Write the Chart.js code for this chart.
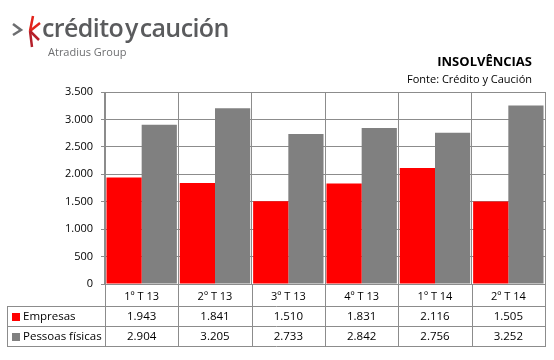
<!DOCTYPE html>
<html>
<head>
<meta charset="utf-8">
<script src="https://cdn.jsdelivr.net/npm/chart.js@4.4.0/dist/chart.umd.min.js"></script>
<style>
  html, body { margin: 0; padding: 0; background: #fff; }
  #wrap { position: relative; width: 554px; height: 360px; overflow: hidden; }
  #chart { position: absolute; left: 0; top: 0; }
  .logo { position: absolute; left: 42px; top: 10px; font-family: "Open Sans", sans-serif; font-weight: 600; font-size: 25px; color: #5a5b5d; letter-spacing: -0.6px; word-spacing: -4px; }
  .group { position: absolute; left: 48px; top: 44px; font-family: "Open Sans", sans-serif; font-size: 11px; color: #6d6e70; }
  .title { position: absolute; right: 22px; top: 52px; font-family: "Open Sans", sans-serif; font-weight: 700; font-size: 13px; color: #000; }
  .source { position: absolute; right: 22px; top: 71px; font-family: "Open Sans", sans-serif; font-size: 11px; color: #000; }
</style>
</head>
<body>
<div id="wrap">
  <canvas id="chart" width="554" height="360"></canvas>
  <svg style="position:absolute;left:10px;top:14px" width="40" height="40">
    <polyline points="3,10 11,16 3,21" fill="none" stroke="#6d6e70" stroke-width="2.5"/>
    <line x1="20" y1="17" x2="23" y2="2" stroke="#e2231a" stroke-width="2.5"/>
    <line x1="20" y1="17" x2="30" y2="9" stroke="#e2231a" stroke-width="2.5"/>
    <line x1="20" y1="17" x2="29" y2="26" stroke="#b51f2a" stroke-width="2.5"/>
    <line x1="20" y1="17" x2="22" y2="33" stroke="#b51f2a" stroke-width="2.5"/>
  </svg>
  <div class="logo">crédito y caución</div>
  <div class="group">Atradius Group</div>
  <div class="title">INSOLVÊNCIAS</div>
  <div class="source">Fonte: Crédito y Caución</div>
</div>
<script>
// data
var quarters = ['1º T 13', '2º T 13', '3º T 13', '4º T 13', '1º T 14', '2º T 14'];
var empresas = [1943, 1841, 1510, 1831, 2116, 1505];
var pessoas = [2904, 3205, 2733, 2842, 2756, 3252];
var seriesNames = ['Empresas', 'Pessoas físicas'];
var seriesColors = ['#ff0000', '#808080'];

var gridColor = '#8c8c8c';
var fontFamily = '"Open Sans", sans-serif';

function fmt(v) {
  return String(v).replace(/\B(?=(\d{3})+(?!\d))/g, '.');
}

// draws the data table under the plot
var dataTable = {
  id: 'dataTable',
  afterDraw: function(chart) {
    var ctx = chart.ctx;
    var x = chart.scales.x;
    var area = chart.chartArea;
    var rows = [empresas, pessoas];
    var rowTop = [306, 326];
    var rowH = 20;
    var tableLeft = 7;
    var step = (area.right - area.left) / quarters.length;

    ctx.save();
    ctx.strokeStyle = gridColor;
    ctx.lineWidth = 1;
    ctx.beginPath();
    // vertical separators from axis to bottom of table
    for (var i = 0; i <= quarters.length; i++) {
      var px = Math.round(area.left + i * step) + 0.5;
      ctx.moveTo(px, area.bottom);
      ctx.lineTo(px, rowTop[1] + rowH);
    }
    // left border of the label column
    ctx.moveTo(tableLeft + 0.5, rowTop[0]);
    ctx.lineTo(tableLeft + 0.5, rowTop[1] + rowH);
    // horizontal rules
    [rowTop[0], rowTop[1], rowTop[1] + rowH].forEach(function(y) {
      ctx.moveTo(tableLeft, y + 0.5);
      ctx.lineTo(Math.round(area.right) + 1, y + 0.5);
    });
    ctx.stroke();

    ctx.font = '11.5px ' + fontFamily;
    ctx.textBaseline = 'middle';
    rows.forEach(function(vals, r) {
      var cy = rowTop[r] + rowH / 2 + 1;
      ctx.fillStyle = seriesColors[r];
      ctx.fillRect(tableLeft + 5, cy - 4, 8, 8);
      ctx.fillStyle = '#000';
      ctx.textAlign = 'left';
      ctx.fillText(seriesNames[r], tableLeft + 16, cy);
      ctx.textAlign = 'center';
      vals.forEach(function(v, i) {
        ctx.fillText(fmt(v), x.getPixelForValue(i), cy);
      });
    });
    ctx.restore();
  }
};

new Chart(document.getElementById('chart'), {
  type: 'bar',
  data: {
    labels: quarters,
    datasets: [
      { label: seriesNames[0], data: empresas, backgroundColor: seriesColors[0] },
      { label: seriesNames[1], data: pessoas, backgroundColor: seriesColors[1] }
    ]
  },
  options: {
    responsive: false,
    animation: false,
    layout: { padding: { top: 92, right: 9, left: 0, bottom: 0 } },
    plugins: { legend: { display: false }, tooltip: { enabled: false } },
    datasets: { bar: { categoryPercentage: 0.96, barPercentage: 1.0 } },
    scales: {
      x: {
        grid: { color: gridColor, tickLength: 0 },
        border: { color: gridColor },
        ticks: { color: '#000', font: { family: fontFamily, size: 11 }, padding: 6 },
        afterFit: function(s) { s.height = 76; }
      },
      y: {
        min: 0, max: 3500,
        grid: { color: gridColor, tickLength: 4 },
        border: { color: gridColor },
        ticks: { stepSize: 500, color: '#000', font: { family: fontFamily, size: 11 }, padding: 8,
                 callback: function(v) { return fmt(v); } },
        afterFit: function(s) { s.width = 105; }
      }
    }
  },
  plugins: [dataTable]
});
</script>
</body>
</html>
